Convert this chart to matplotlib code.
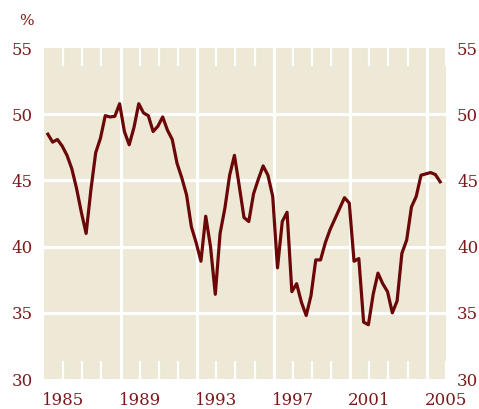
import numpy as np
import matplotlib
matplotlib.use('Agg')
import matplotlib.pyplot as plt

# quarterly values, 1984 Q2 .. 2004 Q4 (%)
values = [48.5, 47.9, 48.1, 47.6, 46.9, 45.9, 44.4, 42.6, 41.0, 44.3,
          47.1, 48.2, 49.9, 49.8, 49.85, 50.8, 48.7, 47.7, 49.0, 50.8,
          50.1, 49.9, 48.7, 49.1, 49.8, 48.8, 48.1, 46.3, 45.2, 43.9,
          41.5, 40.3, 38.9, 42.3, 40.0, 36.4, 41.0, 42.9, 45.4, 46.9,
          44.6, 42.2, 41.9, 44.0, 45.1, 46.1, 45.4, 43.8, 38.4, 41.9,
          42.6, 36.6, 37.2, 35.8, 34.8, 36.3, 39.0, 39.0, 40.3, 41.3,
          42.1, 42.9, 43.7, 43.3, 38.9, 39.1, 34.3, 34.1, 36.4, 38.0,
          37.2, 36.6, 35.0, 35.9, 39.5, 40.5, 43.0, 43.8, 45.4, 45.5,
          45.6, 45.45, 44.9]
years = [1984.2 + 0.25 * i for i in range(len(values))]

year_labels = [1985, 1989, 1993, 1997, 2001, 2005]
grid_years = [1988, 1992, 1996, 2000, 2004]
short_ticks = [y for y in range(1985, 2005) if y not in grid_years]
y_ticks = [30, 35, 40, 45, 50, 55]

txt = '#7a1a1a'
bg = '#eee9d7'
line_c = '#6b0707'

fig = plt.figure(dpi=100, figsize=(4.79, 4.09))
ax = fig.add_axes([0.0919, 0.0733, 0.839, 0.809])
ax.set_facecolor(bg)
for s in ax.spines.values():
    s.set_visible(False)

ax.set_xlim(1984, 2005)
ax.set_ylim(30, 55)

for g in [35, 40, 45, 50]:
    ax.axhline(g, color='white', lw=2.2, zorder=1)
for g in grid_years:
    ax.axvline(g, color='white', lw=2.2, zorder=1)

ax.plot(years, values, color=line_c, lw=2.3, zorder=3)

ax.set_xticks(year_labels)
ax.set_xticklabels([str(y) for y in year_labels])
ax.set_xticks(short_ticks, minor=True)
ax.tick_params(axis='x', which='both', direction='in', top=True, bottom=True,
               length=13, width=1.6, color='white', pad=9,
               labelsize=12, labelcolor=txt)
ax.set_yticks(y_ticks)
ax.tick_params(axis='y', length=0, left=False, right=False, labelleft=True,
               labelright=True, pad=8, labelsize=12, labelcolor=txt)
for lab in ax.get_xticklabels() + ax.get_yticklabels():
    lab.set_family('DejaVu Serif')

fig.text(26 / 479, 1 - 21 / 409, '%', family='DejaVu Serif', fontsize=11,
         color=txt, ha='center', va='center')

fig.savefig('out.png', dpi=100, facecolor='white')
